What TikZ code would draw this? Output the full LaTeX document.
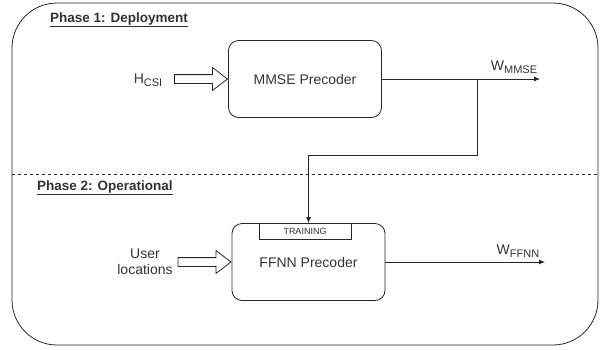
\documentclass[tikz,border=0pt]{standalone}
\usepackage{fontspec}
\setmainfont{Liberation Sans}
\usetikzlibrary{shapes.arrows, arrows.meta, positioning}
\definecolor{inkgray}{HTML}{333333}
\definecolor{linegray}{HTML}{262626}
\newcommand{\lowsub}[1]{\raisebox{-3.5pt}{\fontsize{11}{12}\selectfont #1}}

\begin{document}
\begin{tikzpicture}[x=1pt, y=-1pt,
	every node/.style={text=inkgray, font=\fontsize{14}{16}\selectfont},
	phase/.style={font=\fontsize{13.5}{16}\selectfont\bfseries, anchor=west, inner sep=0pt},
	precoder/.style={draw=linegray, line width=0.8pt, rounded corners=10pt, minimum width=153pt, minimum height=77pt},
	tab/.style={draw=linegray, line width=0.8pt, minimum width=92pt, minimum height=16pt, inner sep=0pt, font=\fontsize{9}{10}\selectfont},
	hollow/.style={draw=linegray, line width=0.8pt, single arrow, single arrow head extend=7pt, single arrow tip angle=75, inner xsep=0pt, inner ysep=4pt, minimum height=53pt, anchor=tip},
	flow/.style={draw=linegray, line width=0.8pt, -{Latex[length=6pt, width=5pt]}}
	]
	\useasboundingbox (0,0) rectangle (606,349);

	% frame and phase separator
	\draw[linegray, line width=0.8pt, rounded corners=45pt] (12,3) rectangle (598,345);
	\draw[linegray, line width=0.6pt, dash pattern=on 3pt off 3pt] (12,174) -- (598,174);
	\node[phase] (phaseone) at (50,20) {\underline{Phase 1: Deployment}};
	\node[phase] (phasetwo) at (37,188) {\underline{Phase 2: Operational}};

	% phase 1
	\node[precoder] (mmse) at (305,79) {MMSE Precoder};
	\node[hollow] (csiarrow) at (mmse.west) {};
	\node (hcsi) at (148,80) {H\lowsub{CSI}};
	\coordinate (wmmseend) at (540,79);
	\coordinate (tap) at (477,79);
	\coordinate (bend) at (477,155);
	\draw[flow] (mmse.east) -- (wmmseend);
	\node (wmmse) at (514,67) {W\lowsub{MMSE}};

	% phase 2
	\node[precoder] (ffnn) at (308.5,262) {FFNN Precoder};
	\node[tab, anchor=north] (training) at ([xshift=-3.5pt]ffnn.north) {TRAINING};
	\node[hollow] (userarrow) at (ffnn.west) {};
	\node[align=center] (users) at (145,262) {User\\locations};
	\coordinate (wffnnend) at (545,262);
	\draw[flow] (ffnn.east) -- (wffnnend);
	\node (wffnn) at (518,251) {W\lowsub{FFNN}};

	% training link
	\draw[flow] (tap) -- (bend) -| (ffnn.north);
\end{tikzpicture}
\end{document}
